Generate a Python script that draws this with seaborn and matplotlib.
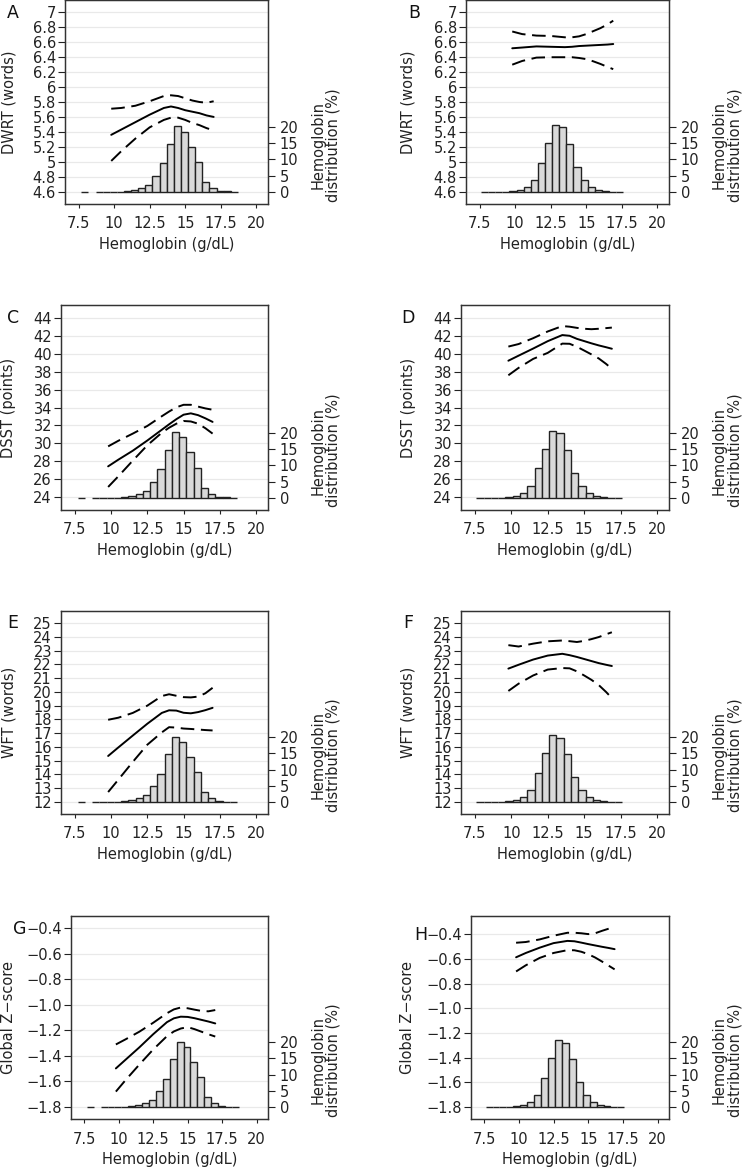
import matplotlib
matplotlib.use("Agg")
import matplotlib.pyplot as plt
import numpy as np
import seaborn as sns

# hemoglobin grid of the spline curves (g/dL)
hb_men = [9.8, 10.5, 11.5, 12.5, 13.5, 14.0, 14.5, 15.0, 15.5, 16.0, 16.5, 17.0]
hb_women = [9.8, 10.5, 11.5, 12.5, 13.5, 14.0, 14.5, 15.0, 15.5, 16.0, 16.5, 16.9]

# DWRT (words)
dwrt_men_est = [5.36, 5.43, 5.53, 5.63, 5.72, 5.74, 5.72, 5.69, 5.67, 5.65, 5.62, 5.60]
dwrt_men_hi = [5.71, 5.72, 5.75, 5.81, 5.88, 5.89, 5.88, 5.85, 5.82, 5.80, 5.79, 5.81]
dwrt_men_lo = [5.01, 5.14, 5.31, 5.46, 5.56, 5.59, 5.59, 5.56, 5.52, 5.49, 5.45, 5.42]
dwrt_women_est = [6.52, 6.53, 6.545, 6.54, 6.535, 6.54, 6.55, 6.555, 6.56, 6.565, 6.57, 6.577]
dwrt_women_hi = [6.745, 6.71, 6.69, 6.685, 6.667, 6.667, 6.68, 6.71, 6.75, 6.79, 6.84, 6.89]
dwrt_women_lo = [6.30, 6.35, 6.395, 6.40, 6.40, 6.40, 6.39, 6.375, 6.345, 6.31, 6.27, 6.24]

# DSST (points)
dsst_men_est = [27.46, 28.2, 29.2, 30.33, 31.53, 32.13, 32.7, 33.2, 33.35, 33.15, 32.8, 32.4]
dsst_men_hi = [29.68, 30.3, 31.1, 31.95, 33.03, 33.55, 34.02, 34.3, 34.3, 34.1, 33.9, 33.75]
dsst_men_lo = [25.17, 26.35, 28.1, 29.8, 31.2, 31.75, 32.2, 32.5, 32.45, 32.2, 31.7, 31.1]
dsst_women_est = [39.2, 39.76, 40.55, 41.37, 42.05, 41.97, 41.63, 41.38, 41.13, 40.9, 40.7, 40.53]
dsst_women_hi = [40.77, 41.05, 41.7, 42.45, 43.05, 42.98, 42.85, 42.75, 42.7, 42.75, 42.82, 42.88]
dsst_women_lo = [37.58, 38.4, 39.4, 40.07, 41.1, 41.08, 40.75, 40.33, 39.9, 39.45, 38.85, 38.3]

# WFT (words)
wft_men_est = [15.33, 15.95, 16.82, 17.68, 18.47, 18.66, 18.64, 18.48, 18.44, 18.53, 18.67, 18.84]
wft_men_hi = [17.97, 18.12, 18.47, 19.0, 19.7, 19.83, 19.72, 19.62, 19.6, 19.66, 19.9, 20.3]
wft_men_lo = [12.7, 13.6, 14.9, 16.15, 17.05, 17.43, 17.4, 17.33, 17.3, 17.26, 17.22, 17.19]
wft_women_est = [21.7, 21.98, 22.36, 22.65, 22.78, 22.68, 22.55, 22.4, 22.25, 22.1, 21.98, 21.89]
wft_women_hi = [23.41, 23.31, 23.52, 23.69, 23.75, 23.7, 23.64, 23.72, 23.85, 24.0, 24.2, 24.35]
wft_women_lo = [20.07, 20.6, 21.2, 21.63, 21.74, 21.72, 21.5, 21.2, 20.88, 20.5, 20.0, 19.55]

# Global Z-score
gz_men_est = [-1.498, -1.43, -1.333, -1.23, -1.135, -1.105, -1.092, -1.094, -1.104, -1.117, -1.13, -1.145]
gz_men_hi = [-1.31, -1.27, -1.21, -1.14, -1.065, -1.035, -1.02, -1.026, -1.037, -1.047, -1.05, -1.04]
gz_men_lo = [-1.68, -1.59, -1.468, -1.35, -1.245, -1.208, -1.185, -1.174, -1.19, -1.21, -1.23, -1.248]
gz_women_est = [-0.585, -0.55, -0.507, -0.47, -0.452, -0.455, -0.466, -0.478, -0.489, -0.5, -0.51, -0.519]
gz_women_hi = [-0.467, -0.461, -0.44, -0.41, -0.386, -0.386, -0.39, -0.397, -0.39, -0.37, -0.352, -0.335]
gz_women_lo = [-0.70, -0.65, -0.59, -0.55, -0.527, -0.528, -0.54, -0.56, -0.587, -0.62, -0.655, -0.683]

# hemoglobin distribution (%), bins 0.5 g/dL wide, None = empty bin
hist_men_left = [7.7, 8.2, 8.7, 9.2, 9.7, 10.2, 10.7, 11.2, 11.7, 12.2, 12.7,
                 13.2, 13.7, 14.2, 14.7, 15.2, 15.7, 16.2, 16.7, 17.2, 17.7, 18.2]
hist_men_pct = [0, None, 0.02, 0.05, 0.05, 0.1, 0.2, 0.5, 1.1, 2.1, 4.9,
                8.8, 14.8, 20.2, 18.5, 13.9, 9.2, 3.0, 1.1, 0.3, 0.15, 0.05]
hist_women_left = [7.6, 8.1, 8.6, 9.1, 9.6, 10.1, 10.6, 11.1, 11.6, 12.1,
                   12.6, 13.1, 13.6, 14.1, 14.6, 15.1, 15.6, 16.1, 16.6, 17.1]
hist_women_pct = [0, 0.02, 0.05, 0.1, 0.2, 0.6, 1.6, 3.6, 9.0, 15.1,
                  20.6, 19.9, 14.7, 7.7, 3.6, 1.5, 0.6, 0.25, 0.05, 0.02]

x_ticks = [7.5, 10, 12.5, 15, 17.5, 20]
pct_ticks = [0, 5, 10, 15, 20]
dwrt_ticks = [4.6, 4.8, 5.0, 5.2, 5.4, 5.6, 5.8, 6.0, 6.2, 6.4, 6.6, 6.8, 7.0]
dsst_ticks = [24, 26, 28, 30, 32, 34, 36, 38, 40, 42, 44]
wft_ticks = [12, 13, 14, 15, 16, 17, 18, 19, 20, 21, 22, 23, 24, 25]
gz_ticks = [-1.8, -1.6, -1.4, -1.2, -1.0, -0.8, -0.6, -0.4]

W, H = 742, 1170
sns.set_theme(style="white")
plt.rcParams["font.family"] = ["DejaVu Sans"]

fig = plt.figure(figsize=(W / 100, H / 100), dpi=100)

men = (hb_men, hist_men_left, hist_men_pct)
women = (hb_women, hist_women_left, hist_women_pct)

# letter, ylabel, ticks, ylim, group, curves, frame px (l, t, r, b), letter px, tick format
panels = [
    ("A", "DWRT (words)", dwrt_ticks, (4.433, 7.167), men,
     (dwrt_men_est, dwrt_men_hi, dwrt_men_lo), (65, 0, 268, 204), (13, 13), "g"),
    ("B", "DWRT (words)", dwrt_ticks, (4.433, 7.167), women,
     (dwrt_women_est, dwrt_women_hi, dwrt_women_lo), (466, 0, 669, 204), (414, 13), "g"),
    ("C", "DSST (points)", dsst_ticks, (22.61, 45.39), men,
     (dsst_men_est, dsst_men_hi, dsst_men_lo), (61, 305, 268, 510), (13, 318), "g"),
    ("D", "DSST (points)", dsst_ticks, (22.61, 45.39), women,
     (dsst_women_est, dsst_women_hi, dsst_women_lo), (461, 305, 669, 510), (408, 318), "g"),
    ("E", "WFT (words)", wft_ticks, (11.1, 25.9), men,
     (wft_men_est, wft_men_hi, wft_men_lo), (61, 611, 268, 814), (13, 623), "g"),
    ("F", "WFT (words)", wft_ticks, (11.1, 25.9), women,
     (wft_women_est, wft_women_hi, wft_women_lo), (461, 611, 669, 814), (408, 623), "g"),
    ("G", "Global Z\u2212score", gz_ticks, (-1.895, -0.302), men,
     (gz_men_est, gz_men_hi, gz_men_lo), (71, 916, 268, 1119), (20, 929), ".1f"),
    ("H", "Global Z\u2212score", gz_ticks, (-1.897, -0.25), women,
     (gz_women_est, gz_women_hi, gz_women_lo), (471, 916, 669, 1119), (421, 935), ".1f"),
]

LW = 1.4
DASH = (0, (7.0, 3.4))
INK = "#222222"

for letter, ylab, yticks, ylim, group, curves, frame, lpos, fmt in panels:
    hb, hleft, hpct = group
    l, t, r, b = frame
    ax = fig.add_axes([l / W, 1 - b / H, (r - l) / W, (b - t) / H])
    ax2 = ax.twinx()

    est, hi, lo = curves
    sns.lineplot(x=hb, y=est, ax=ax, color="black", lw=LW, errorbar=None)
    sns.lineplot(x=hb, y=hi, ax=ax, color="black", lw=LW, linestyle=DASH, errorbar=None)
    sns.lineplot(x=hb, y=lo, ax=ax, color="black", lw=LW, linestyle=DASH, errorbar=None)

    # histogram on the right-hand axis
    xs = [x for x, p in zip(hleft, hpct) if p is not None]
    ps = [p for p in hpct if p is not None]
    ax2.bar(xs, ps, width=0.5, align="edge", color="#d9d9d9",
            edgecolor=INK, linewidth=1.0)

    ax.set_xlim(6.55, 20.82)
    ax.set_ylim(*ylim)
    ax2.set_ylim(-3.7, 59)
    ax.set_xticks(x_ticks)
    ax.set_xticklabels([f"{v:g}" for v in x_ticks])
    ax.set_yticks(yticks)
    ax.set_yticklabels([format(v, fmt).replace("-", "\u2212") for v in yticks])
    ax2.set_yticks(pct_ticks)
    ax2.set_yticklabels([str(v) for v in pct_ticks])

    ax.yaxis.grid(True, color="#e9e9e9", lw=0.9)
    ax.xaxis.grid(False)
    ax2.grid(False)
    ax.set_axisbelow(True)

    for sp in list(ax.spines.values()) + list(ax2.spines.values()):
        sp.set_color("#333333")
        sp.set_linewidth(0.9)

    ax.tick_params(axis="y", left=True, length=5, width=0.8, pad=1.5,
                   labelsize=10.5, colors=INK)
    ax.tick_params(axis="x", bottom=True, length=3, width=0.8, pad=6,
                   labelsize=10.5, colors=INK)
    ax2.tick_params(axis="y", right=True, length=5, width=0.8, pad=3.5,
                    labelsize=10.5, colors=INK)

    ax.set_xlabel("Hemoglobin (g/dL)", fontsize=10.5, labelpad=4, color=INK)
    ax.set_ylabel(ylab, fontsize=10.5, color=INK)
    ax.yaxis.label.set_va("center")
    ylab_x = 9 if l < 371 else 408
    ax.yaxis.set_label_coords((ylab_x - l) / (r - l), 0.5)

    ax.text((r + 58 - l) / (r - l), 0.29, "Hemoglobin\ndistribution (%)",
            rotation=90, ha="center", va="center", transform=ax.transAxes,
            fontsize=10.5, linespacing=1.0, color=INK)

    fig.text(lpos[0] / W, 1 - lpos[1] / H, letter, ha="center", va="center",
             fontsize=12.5, color="#111111")

fig.savefig("out.png", dpi=100, facecolor="white")
